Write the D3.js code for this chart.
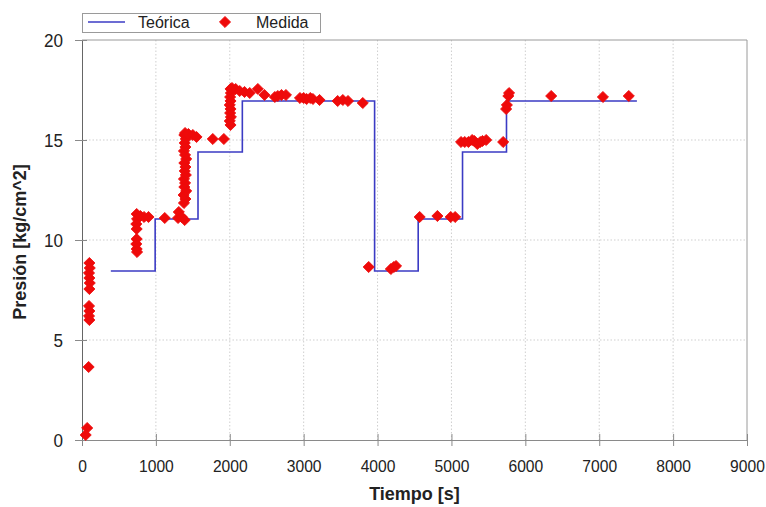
<!DOCTYPE html>
<html><head><meta charset="utf-8">
<script src="https://cdn.jsdelivr.net/npm/d3@7"></script>
<style>body{margin:0;background:#fff}svg{display:block}</style>
</head><body>
<svg id="c" width="766" height="507"></svg>
<script>
// Theoretical pressure (step curve)
const teoT = [390, 990, 990, 1570, 1570, 2170, 2170, 3960, 3960, 4550, 4550, 5150, 5150, 5745, 5745, 7510];
const teoP = [8.45, 8.45, 11.05, 11.05, 14.4, 14.4, 16.95, 16.95, 8.45, 8.45, 11.05, 11.05, 14.4, 14.4, 16.95, 16.95];
// Measured pressure
const medT = [100,105,95,100,105,100,95,100,95,100,90,70,50,
  740,745,735,740,740,735,740,745,790,840,900,1120,1300,1310,1350,1390,
  1380,1400,1375,1410,1385,1395,1380,1405,1390,1400,1385,1410,1395,1380,1400,1390,1405,1385,1395,
  1440,1500,1550,1770,1920,
  2010,2000,2015,2005,2010,2000,2010,2005,2015,2010,
  2030,2080,2135,2200,2270,2380,2470,2610,2650,2700,2760,2950,3000,3040,3090,3125,3215,3460,3530,3600,3800,
  3880,4180,4220,4250,4570,4810,4990,5050,5130,5180,5230,5280,5310,5350,5390,5420,5470,5700,5740,5750,5770,5780,6350,7050,7400];
const medP = [8.85,8.6,8.35,8.1,7.85,7.55,6.7,6.45,6.2,6.0,3.65,0.6,0.25,
  11.3,11.05,10.8,10.55,10.05,9.8,9.55,9.4,11.2,11.15,11.15,11.1,11.1,11.4,11.15,11.0,
  11.85,12.05,12.25,12.45,12.65,12.85,13.05,13.25,13.45,13.65,13.85,14.05,14.25,14.45,14.65,14.85,15.05,15.25,15.35,
  15.3,15.25,15.15,15.05,15.05,
  15.75,15.95,16.15,16.35,16.55,16.75,16.95,17.15,17.35,17.55,
  17.6,17.55,17.45,17.4,17.35,17.55,17.25,17.15,17.2,17.25,17.25,17.1,17.1,17.05,17.1,17.05,17.0,16.95,17.0,16.95,16.85,
  8.65,8.55,8.65,8.7,11.15,11.2,11.15,11.15,14.9,14.9,14.9,15.0,14.95,14.8,14.9,14.95,15.0,14.9,16.55,16.75,17.2,17.35,17.2,17.15,17.2];
const xTicks = [0,1000,2000,3000,4000,5000,6000,7000,8000,9000];
const yTicks = [0,5,10,15,20];
const legendLabels = ["Teórica", "Medida"];
const xTitle = "Tiempo [s]";
const yTitle = "Presión [kg/cm^2]";

const svg = d3.select("#c");
const L = 82, R = 747, T = 40, B = 440;
const x = d3.scaleLinear().domain([0, 9000]).range([L, R]);
const y = d3.scaleLinear().domain([0, 20]).range([B, T]);
const font = "'Liberation Sans', Arial, sans-serif";
const red = "#ee0a0a", blue = "#3b3bc4";

// grid
const g = svg.append("g");
g.selectAll(".gx").data(xTicks.filter(d => d > 0 && d < 9000)).join("line")
  .attr("x1", d => x(d)).attr("x2", d => x(d)).attr("y1", T).attr("y2", B)
  .attr("stroke", "#cfcfcf").attr("stroke-dasharray", "1.5,2");
g.selectAll(".gy").data(yTicks.filter(d => d > 0 && d < 20)).join("line")
  .attr("x1", L).attr("x2", R).attr("y1", d => y(d)).attr("y2", d => y(d))
  .attr("stroke", "#cfcfcf").attr("stroke-dasharray", "1.5,2");
// frame
svg.append("line").attr("x1", L).attr("x2", R).attr("y1", T).attr("y2", T).attr("stroke", "#9a9a9a");
svg.append("line").attr("x1", R).attr("x2", R).attr("y1", T).attr("y2", B).attr("stroke", "#9a9a9a");

// axes
const ax = svg.append("g").attr("transform", `translate(0,${B})`)
  .call(d3.axisBottom(x).tickValues(xTicks).tickFormat(d3.format("d")).tickSize(6));
ax.select(".domain").attr("stroke", "#8a8a8a");
ax.selectAll(".tick line").attr("y1", -6).attr("y2", 6).attr("stroke", "#8a8a8a");
ax.selectAll(".tick text").attr("y", 20).attr("font-family", font).attr("font-size", 16.5).attr("fill", "#222")
  .attr("textLength", function(){ return this.textContent.length * 8.7; }).attr("lengthAdjust", "spacingAndGlyphs");

const ay = svg.append("g").attr("transform", `translate(${L},0)`)
  .call(d3.axisLeft(y).tickValues(yTicks).tickSize(6));
ay.select(".domain").attr("stroke", "#666");
ay.selectAll(".tick line").attr("x1", 5).attr("x2", -7).attr("stroke", "#8a8a8a");
ay.selectAll(".tick text").attr("x", -19).attr("font-family", font).attr("font-size", 19).attr("fill", "#222")
  .attr("textLength", function(){ return this.textContent.length * 9.5; }).attr("lengthAdjust", "spacingAndGlyphs");

// titles
svg.append("text").attr("x", (L + R) / 2).attr("y", 500).attr("text-anchor", "middle")
  .attr("font-family", font).attr("font-weight", "bold").attr("font-size", 18).attr("fill", "#222").text(xTitle);
svg.append("text").attr("transform", `translate(26,${(T + B) / 2 + 2}) rotate(-90)`).attr("text-anchor", "middle")
  .attr("font-family", font).attr("font-weight", "bold").attr("font-size", 18).attr("fill", "#222").text(yTitle);

// theoretical line
const teo = teoT.map((t, i) => [t, teoP[i]]);
svg.append("path").datum(teo)
  .attr("d", d3.line().x(d => x(d[0])).y(d => y(d[1])))
  .attr("fill", "none").attr("stroke", blue).attr("stroke-width", 1.6);

// measured markers
const med = medT.map((t, i) => [t, medP[i]]);
const sym = d3.symbol(d3.symbolSquare, 62);
svg.append("g").selectAll("path").data(med).join("path")
  .attr("d", sym).attr("transform", d => `translate(${x(d[0])},${y(d[1])}) rotate(45)`)
  .attr("fill", red).attr("stroke", red).attr("stroke-width", 0.8).attr("stroke-linejoin", "round");

// legend
const lg = svg.append("g");
lg.append("rect").attr("x", 82.5).attr("y", 13.5).attr("width", 238).attr("height", 19)
  .attr("fill", "#fff").attr("stroke", "#9a9a9a");
lg.append("line").attr("x1", 88).attr("x2", 125).attr("y1", 22).attr("y2", 22).attr("stroke", blue).attr("stroke-width", 1.6);
lg.append("text").attr("x", 138).attr("y", 28).attr("font-family", font).attr("font-size", 16).attr("fill", "#222").text(legendLabels[0]);
lg.append("path").attr("d", sym).attr("transform", "translate(225,22) rotate(45)")
  .attr("fill", red).attr("stroke", red).attr("stroke-width", 0.8).attr("stroke-linejoin", "round");
lg.append("text").attr("x", 256).attr("y", 28).attr("font-family", font).attr("font-size", 16).attr("fill", "#222").text(legendLabels[1]);
</script>
</body></html>
